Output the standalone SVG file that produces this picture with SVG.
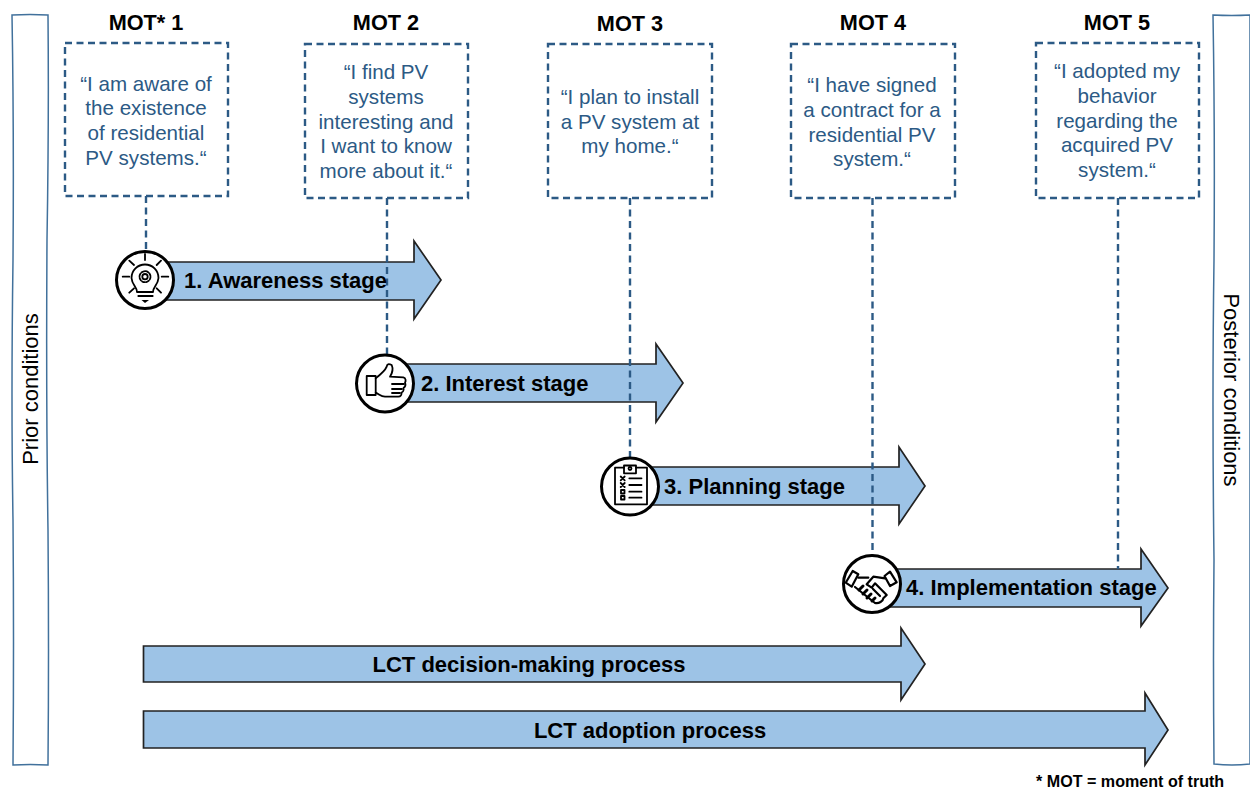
<svg xmlns="http://www.w3.org/2000/svg" width="1250" height="789" viewBox="0 0 1250 789">
<style>
text{font-family:"Liberation Sans",Arial,sans-serif}
.mot{font-size:21.7px;font-weight:700;fill:#000;text-anchor:middle}
.q{font-size:20.6px;fill:#2c5a85;text-anchor:middle}
.l{font-size:22px;font-weight:700;fill:#000}
.lc{text-anchor:middle}
.box{fill:#fff;stroke:#2c5a85;stroke-width:2.4;stroke-dasharray:7 4.500}
.con{fill:none;stroke:#2c5a85;stroke-width:2.4;stroke-dasharray:7 4.500}
.arr{fill:#9dc3e6;stroke:#222;stroke-width:1.700}
.side{fill:#fff;stroke:#41719c;stroke-width:1.500}
.side-t{font-size:22px;fill:#000;text-anchor:middle}
.c{fill:#fff;stroke:#000;stroke-width:3}
.i{fill:none;stroke:#000;stroke-width:1.800;stroke-linecap:round;stroke-linejoin:round}
.if{fill:#000}
</style>
<rect width="1250" height="789" fill="#fff"/>
<g id="prior"><path class="side" d="M12 15Q30 14 48 15Q49 120 47 240Q46 400 48 530Q49 650 48 765Q30 764 13 765Q14 640 13 520Q11 400 13 260Q14 130 12 15Z"/><text class="side-t" transform="translate(38 389) rotate(-90)">Prior conditions</text></g>
<g id="posterior"><path class="side" d="M1213 15Q1232 16 1250 15L1250 764Q1232 766 1214 764Q1213 660 1214 560Q1212 400 1214 260Q1215 130 1213 15Z"/><text class="side-t" transform="translate(1224 390) rotate(90)">Posterior conditions</text></g>
<g id="arrow-lct1"><path class="arr" d="M143.500 646H901V628L925 664L901 700V682H143.500Z"/><text class="l lc" x="529" y="672">LCT decision-making process</text></g>
<g id="arrow-lct2"><path class="arr" d="M143.500 711H1145V693L1168 730L1145 765V748H143.500Z"/><text class="l lc" x="650" y="738">LCT adoption process</text></g>
<g id="arrow1"><path class="arr" d="M146 262H414V241L441 280L414 319V300H146Z"/></g>
<g id="arrow2"><path class="arr" d="M388 364H656V344L683 383L656 422V402H388Z"/></g>
<g id="arrow3"><path class="arr" d="M630 467H899V447L925 486L899 524V505H630Z"/></g>
<g id="arrow4"><path class="arr" d="M872 569H1141V549L1168 588L1141 626V607H872Z"/></g>
<g id="connectors">
<path class="con" d="M146 196V250"/><path class="con" d="M387 198V355"/><path class="con" d="M630 198V457"/><path class="con" d="M872.500 198V556"/><path class="con" d="M1118 198V569"/>
</g>
<g id="label1"><text class="l" x="184" y="288">1. Awareness stage</text></g>
<g id="label2"><text class="l" x="421" y="391">2. Interest stage</text></g>
<g id="label3"><text class="l" x="664" y="494">3. Planning stage</text></g>
<g id="label4"><text class="l" x="906" y="595">4. Implementation stage</text></g>
<g id="mot1"><text class="mot" x="146" y="30">MOT* 1</text><rect class="box" x="65" y="43" width="163" height="153"/><text class="q" x="146" y="91">“I am aware of</text><text class="q" x="146" y="115">the existence</text><text class="q" x="146" y="140">of residential</text><text class="q" x="146" y="165">PV systems.“</text></g>
<g id="mot2"><text class="mot" x="386" y="30">MOT 2</text><rect class="box" x="305" y="44" width="163" height="154"/><text class="q" x="386" y="79">“I find PV</text><text class="q" x="386" y="104">systems</text><text class="q" x="386" y="129">interesting and</text><text class="q" x="386" y="153">I want to know</text><text class="q" x="386" y="178">more about it.“</text></g>
<g id="mot3"><text class="mot" x="630" y="31">MOT 3</text><rect class="box" x="548" y="44" width="164" height="154"/><text class="q" x="630" y="104">“I plan to install</text><text class="q" x="630" y="129">a PV system at</text><text class="q" x="630" y="153">my home.“</text></g>
<g id="mot4"><text class="mot" x="873" y="30">MOT 4</text><rect class="box" x="791" y="44" width="164" height="154"/><text class="q" x="872" y="92">“I have signed</text><text class="q" x="872" y="117">a contract for a</text><text class="q" x="872" y="142">residential PV</text><text class="q" x="872" y="166">system.“</text></g>
<g id="mot5"><text class="mot" x="1117" y="30">MOT 5</text><rect class="box" x="1036" y="43" width="163" height="155"/><text class="q" x="1117" y="78">“I adopted my</text><text class="q" x="1117" y="103">behavior</text><text class="q" x="1117" y="128">regarding the</text><text class="q" x="1117" y="152">acquired PV</text><text class="q" x="1117" y="177">system.“</text></g>
<g id="icon1"><circle class="c" cx="145" cy="280" r="28.500"/>
<path class="i" d="M137 292C137 287 132 285 131.500 278A13.500 13.500 0 1 1 158.500 278C158 285 153 287 153 292Z"/>
<path class="i" d="M145 254V260M129.300 260.700L134 265M161 260.700L156.700 265M122.700 276.700H129.300M161.700 276.700H168.300M129.300 292.700L134 288.300M161 292.700L156.700 288.300M138.300 296H152.700"/><path class="if" d="M141.500 300H149L145 303Z"/>
<circle class="i" cx="145" cy="276.700" r="2.700"/><circle class="i" cx="145" cy="276.700" r="5.500" stroke-dasharray="2.800 1.500" stroke-width="2.800" stroke-linecap="butt"/></g>
<g id="icon2"><circle class="c" cx="385" cy="383.500" r="28.500"/>
<path class="i" d="M366.700 376H375.700V395H366.700Z"/><path class="i" d="M375.700 378.300C380 375 385 371 386.700 366.700C387 364 388.500 363.500 391.700 365C393 368 393 372 390 376.700L403.300 377.300C406 378 406 381 405 382.500C406 385 405 387 403.500 388C404 390 403 392 401.500 392.500C402 395 400.500 396.700 398.300 396.700H385C381 396.500 379 394 375.700 392.700"/><path class="i" d="M392 384H404M392 389H402M392 393H400" stroke-width="1"/></g>
<g id="icon3"><circle class="c" cx="630" cy="486.500" r="28.500"/>
<path class="i" d="M624 467.700H615V504.300H647V467.700H636"/><path class="i" d="M624 473.300V465.500H636V473.300Z"/><circle class="i" cx="630" cy="468.500" r="1.500"/>
<path class="i" d="M620.700 476.500L624.700 480.300M624.700 476.500L620.700 480.300M620.700 483L624.700 487M624.700 483L620.700 487"/><rect class="i" x="621" y="490" width="3.500" height="3.500"/><rect class="i" x="621" y="496" width="3.500" height="3.500"/>
<path class="i" d="M629.300 478.300H641.500M629.300 485H641.500M629.300 491.700H641.500M629.300 497.700H641.500"/></g>
<g id="icon4"><circle class="c" cx="872" cy="584" r="28.500"/>
<g style="stroke-width:2.200">
<path class="i" style="stroke-width:2.200" d="M852.700 571L858.300 574.300L851.700 586.700L845.700 582.700ZM890 571.700L896.700 582.300L890 586L884.500 576Z"/>
<path class="i" style="stroke-width:2.200" d="M858.300 577.700H868.300M866.700 584.300L873.300 576.700L885 578.300M866.700 584.300L871.700 587.700L875 583.300L886.700 595L883.300 598.300M855 587L875 603C879 604 883 601 883.300 598.300M873 589L880 596"/>
<path class="i" style="stroke-width:3" d="M859 590L863 586M863 594L867 590M867 598L871 594M872 601L875 598"/>
</g></g>
<g id="note"><text x="1036" y="787" font-size="16.100" font-weight="700" fill="#000">* MOT = moment of truth</text></g>
</svg>
